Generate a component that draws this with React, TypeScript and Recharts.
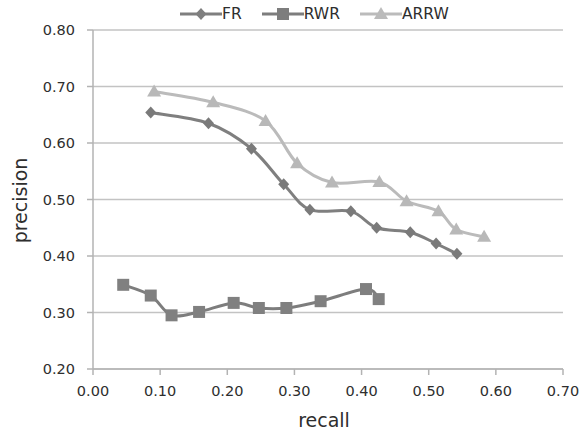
import React from 'react';
import { LineChart, Line, XAxis, YAxis, CartesianGrid, Legend, Label } from 'recharts';

const xTicks = [0, 0.1, 0.2, 0.3, 0.4, 0.5, 0.6, 0.7];
const yTicks = [0.2, 0.3, 0.4, 0.5, 0.6, 0.7, 0.8];

const frRecall = [0.086, 0.172, 0.236, 0.284, 0.323, 0.384, 0.4225, 0.4725, 0.511, 0.542];
const frPrecision = [0.654, 0.635, 0.59, 0.527, 0.482, 0.479, 0.45, 0.442, 0.422, 0.404];

const rwrRecall = [0.045, 0.086, 0.117, 0.158, 0.2095, 0.247, 0.288, 0.339, 0.4066, 0.4255];
const rwrPrecision = [0.349, 0.33, 0.295, 0.301, 0.317, 0.308, 0.308, 0.32, 0.3415, 0.3237];

const arrwRecall = [0.091, 0.179, 0.257, 0.304, 0.356, 0.4265, 0.467, 0.5145, 0.541, 0.5825];
const arrwPrecision = [0.691, 0.672, 0.639, 0.564, 0.53, 0.531, 0.497, 0.479, 0.447, 0.434];

const zip = (xs: number[], ys: number[]) => xs.map((x, i) => ({ x, y: ys[i] }));
const frData = zip(frRecall, frPrecision);
const rwrData = zip(rwrRecall, rwrPrecision);
const arrwData = zip(arrwRecall, arrwPrecision);

const FONT = "'DejaVu Sans', sans-serif";
const TEXT = '#2e2e2e';

const FR_COLOR = '#7f7f7f';
const RWR_COLOR = '#7d7d7d';
const ARRW_COLOR = '#bbbbbb';

// Excel-like smoothed line (uniform Catmull-Rom spline)
const smoothCurve = (context: any) => {
  let pts: number[][] = [];
  return {
    areaStart() {},
    areaEnd() {},
    lineStart() {
      pts = [];
    },
    point(x: number, y: number) {
      pts.push([+x, +y]);
    },
    lineEnd() {
      if (!pts.length) return;
      context.moveTo(pts[0][0], pts[0][1]);
      for (let i = 0; i < pts.length - 1; i++) {
        const p0 = pts[i - 1] || pts[i];
        const p1 = pts[i];
        const p2 = pts[i + 1];
        const p3 = pts[i + 2] || p2;
        context.bezierCurveTo(
          p1[0] + (p2[0] - p0[0]) / 6,
          p1[1] + (p2[1] - p0[1]) / 6,
          p2[0] - (p3[0] - p1[0]) / 6,
          p2[1] - (p3[1] - p1[1]) / 6,
          p2[0],
          p2[1]
        );
      }
    },
  };
};

const diamondPath = (cx: number, cy: number) =>
  `M${cx},${cy - 6}L${cx + 5.5},${cy}L${cx},${cy + 6}L${cx - 5.5},${cy}Z`;
const squarePath = (cx: number, cy: number) =>
  `M${cx - 6},${cy - 6}L${cx + 6},${cy - 6}L${cx + 6},${cy + 6}L${cx - 6},${cy + 6}Z`;
const trianglePath = (cx: number, cy: number) =>
  `M${cx},${cy - 7}L${cx + 7},${cy + 5}L${cx - 7},${cy + 5}Z`;

const makeDot = (pathFn: (cx: number, cy: number) => string, color: string, prefix: string) =>
  (props: any) => {
    const { cx, cy, index } = props;
    if (cx == null || cy == null) return <g key={`${prefix}-${index}`} />;
    return <path key={`${prefix}-${index}`} d={pathFn(cx, cy)} fill={color} stroke="none" />;
  };

const legendItems = [
  { name: 'FR', color: FR_COLOR, marker: diamondPath },
  { name: 'RWR', color: RWR_COLOR, marker: squarePath },
  { name: 'ARRW', color: ARRW_COLOR, marker: trianglePath },
];

const LegendContent = () => (
  <div style={{ display: 'flex', alignItems: 'center', paddingLeft: 180, height: 28, fontFamily: FONT, fontSize: 15.5, color: TEXT }}>
    {legendItems.map((it) => (
      <div key={it.name} style={{ display: 'flex', alignItems: 'center', marginRight: 20 }}>
        <svg width={42} height={16} style={{ display: 'block' }}>
          <line x1={0} y1={8} x2={42} y2={8} stroke={it.color} strokeWidth={3} />
          <path d={it.marker(21, 8)} fill={it.color} />
        </svg>
        <span style={{ lineHeight: '16px' }}>{it.name}</span>
      </div>
    ))}
  </div>
);

export default function App() {
  return (
    <div style={{ position: 'absolute', left: 0, top: 0, background: '#fff' }}>
      <LineChart width={581} height={432} margin={{ top: 30, right: 18, bottom: 0, left: 0 }}>
        <CartesianGrid vertical={false} stroke="#c3c3c3" strokeWidth={1.5} />
        <XAxis
          dataKey="x"
          type="number"
          domain={[0, 0.7]}
          ticks={xTicks}
          allowDataOverflow
          height={63}
          tickSize={6}
          tickMargin={11}
          stroke="#b3b3b3"
          strokeWidth={1.5}
          tick={{ fill: TEXT, fontFamily: FONT, fontSize: 14.5 }}
          tickFormatter={(v: number) => v.toFixed(2)}
        >
          <Label
            value="recall"
            position="insideBottom"
            offset={5}
            dx={-4}
            style={{ fill: TEXT, fontFamily: FONT, fontSize: 19 }}
          />
        </XAxis>
        <YAxis
          type="number"
          domain={[0.2, 0.8]}
          ticks={yTicks}
          allowDataOverflow
          width={93}
          tickSize={6}
          tickMargin={12}
          stroke="#b3b3b3"
          strokeWidth={1.5}
          tick={{ fill: TEXT, fontFamily: FONT, fontSize: 14.5 }}
          tickFormatter={(v: number) => v.toFixed(2)}
        >
          <Label
            content={(p: any) => {
              const vb = p.viewBox || {};
              const cy = (vb.y || 0) + (vb.height || 0) / 2;
              return (
                <text
                  x={20}
                  y={cy + 1}
                  transform={`rotate(-90, 20, ${cy + 1})`}
                  textAnchor="middle"
                  dominantBaseline="central"
                  fill={TEXT}
                  fontFamily={FONT}
                  fontSize={19}
                >
                  precision
                </text>
              );
            }}
          />
        </YAxis>
        <Legend
          layout="horizontal"
          verticalAlign="middle"
          align="center"
          wrapperStyle={{ top: 0, left: 0, width: 581, height: 28 }}
          content={LegendContent}
        />
        <Line
          data={rwrData}
          dataKey="y"
          name="RWR"
          type={smoothCurve as any}
          stroke={RWR_COLOR}
          strokeWidth={3}
          dot={makeDot(squarePath, '#808080', 'rwr')}
          activeDot={false}
          isAnimationActive={false}
        />
        <Line
          data={frData}
          dataKey="y"
          name="FR"
          type={smoothCurve as any}
          stroke={FR_COLOR}
          strokeWidth={3}
          dot={makeDot(diamondPath, '#7a7a7a', 'fr')}
          activeDot={false}
          isAnimationActive={false}
        />
        <Line
          data={arrwData}
          dataKey="y"
          name="ARRW"
          type={smoothCurve as any}
          stroke={ARRW_COLOR}
          strokeWidth={3}
          dot={makeDot(trianglePath, '#b8b8b8', 'arrw')}
          activeDot={false}
          isAnimationActive={false}
        />
      </LineChart>
    </div>
  );
}
